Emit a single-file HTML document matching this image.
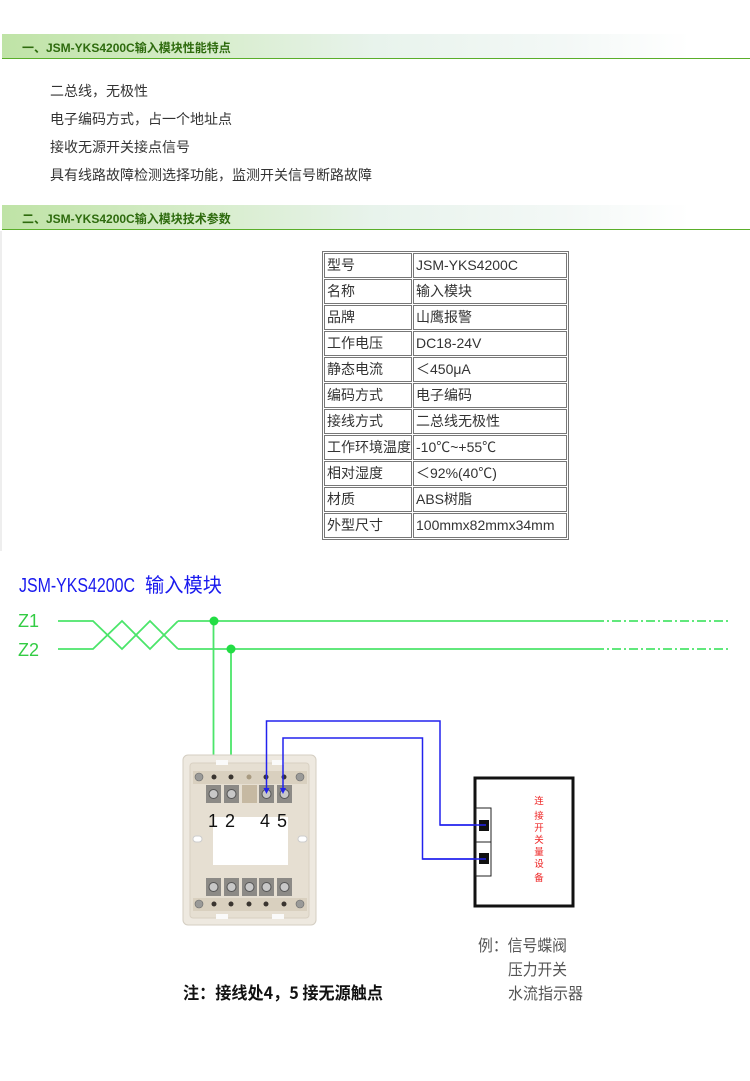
<!DOCTYPE html>
<html><head><meta charset="utf-8">
<style>
*{margin:0;padding:0;box-sizing:border-box}
html,body{width:750px;height:1081px;background:#fff;overflow:hidden}
body{position:relative;font-family:"Liberation Sans","Noto Sans CJK SC",sans-serif;color:#333}
.hd{position:absolute;left:2px;width:748px;height:25px;border-bottom:1px solid #5aae2a;
background:linear-gradient(to right,#bfe3a6 0%,#d5ecc8 25%,#e8f3ec 50%,#f3f8f6 75%,#fff 92%);}
.hd span{position:absolute;left:20px;top:5px;font-size:12px;font-weight:bold;color:#2e6b0e;white-space:nowrap}
.ln{position:absolute;left:50px;font-size:14px;color:#333;white-space:nowrap;line-height:16px}
.tb{position:absolute;left:322px;top:251px;width:247px;height:289px;border:1px solid #777}
.c{position:absolute;border:1px solid #777;height:25px;font-size:14px;line-height:23px;color:#333;white-space:nowrap;overflow:hidden}
.c1{left:324px;width:88px;padding-left:2px}
.c2{left:413px;width:154px;padding-left:2px}
.strip{position:absolute;left:0;top:231px;width:2px;height:320px;background:#eee}
</style></head><body>
<div class="hd" style="top:34px"><span>一、JSM-YKS4200C输入模块性能特点</span></div>
<div class="ln" style="top:83px">二总线，无极性</div>
<div class="ln" style="top:111px">电子编码方式，占一个地址点</div>
<div class="ln" style="top:139px">接收无源开关接点信号</div>
<div class="ln" style="top:167px">具有线路故障检测选择功能，监测开关信号断路故障</div>
<div class="hd" style="top:205px"><span>二、JSM-YKS4200C输入模块技术参数</span></div>
<div class="strip"></div>
<div class="tb"></div>
<div class="c c1" style="top:253px">型号</div><div class="c c2" style="top:253px">JSM-YKS4200C</div>
<div class="c c1" style="top:279px">名称</div><div class="c c2" style="top:279px">输入模块</div>
<div class="c c1" style="top:305px">品牌</div><div class="c c2" style="top:305px">山鹰报警</div>
<div class="c c1" style="top:331px">工作电压</div><div class="c c2" style="top:331px">DC18-24V</div>
<div class="c c1" style="top:357px">静态电流</div><div class="c c2" style="top:357px">＜450μA</div>
<div class="c c1" style="top:383px">编码方式</div><div class="c c2" style="top:383px">电子编码</div>
<div class="c c1" style="top:409px">接线方式</div><div class="c c2" style="top:409px">二总线无极性</div>
<div class="c c1" style="top:435px">工作环境温度</div><div class="c c2" style="top:435px">-10℃~+55℃</div>
<div class="c c1" style="top:461px">相对湿度</div><div class="c c2" style="top:461px">＜92%(40℃)</div>
<div class="c c1" style="top:487px">材质</div><div class="c c2" style="top:487px">ABS树脂</div>
<div class="c c1" style="top:513px">外型尺寸</div><div class="c c2" style="top:513px">100mmx82mmx34mm</div>

<svg style="position:absolute;left:0;top:0" width="750" height="1081" viewBox="0 0 750 1081">
<!-- title -->
<text x="19" y="592" font-family="Liberation Sans,sans-serif" font-size="20" fill="#1a1aee" textLength="116" lengthAdjust="spacingAndGlyphs">JSM-YKS4200C</text>
<text x="145" y="592" font-family="Noto Sans CJK SC,sans-serif" font-size="20" fill="#1a1aee" textLength="77" lengthAdjust="spacingAndGlyphs">输入模块</text>
<!-- Z labels -->
<text x="18" y="627" font-family="Liberation Sans,sans-serif" font-size="18" fill="#33cc44">Z1</text>
<text x="18" y="656" font-family="Liberation Sans,sans-serif" font-size="18" fill="#33cc44">Z2</text>
<!-- green bus -->
<g stroke="#4be56a" stroke-width="1.8" fill="none">
<path d="M58,621 L93,621 L122,649 L150,621 L178,649"/>
<path d="M58,649 L93,649 L122,621 L150,649 L178,621"/>
<path d="M178,621 L595,621"/>
<path d="M178,649 L595,649"/>
<path d="M595,621 L730,621" stroke-dasharray="9,3,2,3"/>
<path d="M595,649 L730,649" stroke-dasharray="9,3,2,3"/>
<path d="M213.5,621 L213.5,792"/>
<path d="M231,649 L231,792"/>
</g>
<circle cx="214" cy="621" r="4.5" fill="#22dd44"/>
<circle cx="231" cy="649" r="4.5" fill="#22dd44"/>
<!-- module -->
<g>
<rect x="183" y="755" width="133" height="170" rx="5" fill="#eee9e0" stroke="#d4cec2"/>
<rect x="190" y="763" width="119" height="155" rx="3" fill="#e6dfd2" stroke="#d8d0c2"/>
<rect x="216" y="760" width="12" height="5" fill="#fafafa"/>
<rect x="272" y="760" width="12" height="5" fill="#fafafa"/>
<rect x="216" y="914" width="12" height="5" fill="#fafafa"/>
<rect x="272" y="914" width="12" height="5" fill="#fafafa"/>
<rect x="193" y="771" width="114" height="13" fill="#d9d0bf"/>
<circle cx="199" cy="777" r="4" fill="#9a9a98" stroke="#666" stroke-width="0.6"/>
<circle cx="300" cy="777" r="4" fill="#9a9a98" stroke="#666" stroke-width="0.6"/>
<g fill="#3a3530">
<circle cx="214" cy="777" r="2.5"/><circle cx="231" cy="777" r="2.5"/><circle cx="249" cy="777" r="2.5" fill="#a89a80"/><circle cx="266" cy="777" r="2.5"/><circle cx="284" cy="777" r="2.5"/>
</g>
<g>
<rect x="206" y="785" width="15" height="18" fill="#8c8a86"/>
<rect x="224" y="785" width="15" height="18" fill="#8c8a86"/>
<rect x="242" y="785" width="15" height="18" fill="#c6b9a2"/>
<rect x="259" y="785" width="15" height="18" fill="#8c8a86"/>
<rect x="277" y="785" width="15" height="18" fill="#8c8a86"/>
<circle cx="213.5" cy="794" r="4.5" fill="#c8c8c8" stroke="#555"/>
<circle cx="231.5" cy="794" r="4.5" fill="#c8c8c8" stroke="#555"/>
<circle cx="266.5" cy="794" r="4.5" fill="#c8c8c8" stroke="#555"/>
<circle cx="284.5" cy="794" r="4.5" fill="#c8c8c8" stroke="#555"/>
</g>
<rect x="213" y="817" width="75" height="48" fill="#fff"/>
<rect x="193" y="836" width="9" height="6" rx="3" fill="#fff" stroke="#ccc"/>
<rect x="298" y="836" width="9" height="6" rx="3" fill="#fff" stroke="#ccc"/>
<g>
<rect x="206" y="878" width="15" height="18" fill="#8c8a86"/>
<rect x="224" y="878" width="15" height="18" fill="#8c8a86"/>
<rect x="242" y="878" width="15" height="18" fill="#8c8a86"/>
<rect x="259" y="878" width="15" height="18" fill="#8c8a86"/>
<rect x="277" y="878" width="15" height="18" fill="#8c8a86"/>
<circle cx="213.5" cy="887" r="4.5" fill="#c8c8c8" stroke="#555"/>
<circle cx="231.5" cy="887" r="4.5" fill="#c8c8c8" stroke="#555"/>
<circle cx="249.5" cy="887" r="4.5" fill="#c8c8c8" stroke="#555"/>
<circle cx="266.5" cy="887" r="4.5" fill="#c8c8c8" stroke="#555"/>
<circle cx="284.5" cy="887" r="4.5" fill="#c8c8c8" stroke="#555"/>
</g>
<rect x="193" y="898" width="114" height="13" fill="#d9d0bf"/>
<circle cx="199" cy="904" r="4" fill="#9a9a98" stroke="#666" stroke-width="0.6"/>
<circle cx="300" cy="904" r="4" fill="#9a9a98" stroke="#666" stroke-width="0.6"/>
<g fill="#3a3530">
<circle cx="214" cy="904" r="2.5"/><circle cx="231" cy="904" r="2.5"/><circle cx="249" cy="904" r="2.5"/><circle cx="266" cy="904" r="2.5"/><circle cx="284" cy="904" r="2.5"/>
</g>
<text x="208" y="827" font-family="Liberation Sans,sans-serif" font-size="18" fill="#111">1</text>
<text x="225" y="827" font-family="Liberation Sans,sans-serif" font-size="18" fill="#111">2</text>
<text x="260" y="827" font-family="Liberation Sans,sans-serif" font-size="18" fill="#111">4</text>
<text x="277" y="827" font-family="Liberation Sans,sans-serif" font-size="18" fill="#111">5</text>
</g>
<!-- blue wires -->
<g stroke="#2222ee" stroke-width="1.5" fill="none">
<path d="M266.5,790 L266.5,721 L440,721 L440,825 L482,825"/>
<path d="M283,790 L283,738 L422.5,738 L422.5,859 L482,859"/>
</g>
<path d="M263.5,788 L266.5,794 L269.5,788 z" fill="#2222ee"/>
<path d="M280,788 L283,794 L286,788 z" fill="#2222ee"/>
<!-- device box -->
<rect x="475" y="778" width="98" height="128" fill="#fff" stroke="#111" stroke-width="3"/>
<rect x="476" y="808" width="15" height="34" fill="#fff" stroke="#222" stroke-width="1"/>
<rect x="476" y="842" width="15" height="34" fill="#fff" stroke="#222" stroke-width="1"/>
<rect x="479" y="820" width="10" height="11" fill="#111"/>
<rect x="479" y="853" width="10" height="11" fill="#111"/>
<line x1="440" y1="825" x2="486" y2="825" stroke="#2222ee" stroke-width="1.5"/>
<line x1="422.5" y1="859" x2="486" y2="859" stroke="#2222ee" stroke-width="1.5"/>
<g font-family="Noto Sans CJK SC,sans-serif" font-size="9.5" fill="#ee2222" text-anchor="middle">
<text x="539" y="804">连</text>
<text x="539" y="819">接</text>
<text x="539" y="831">开</text>
<text x="539" y="843">关</text>
<text x="539" y="855">量</text>
<text x="539" y="867">设</text>
<text x="539" y="881">备</text>
</g>
<!-- example text -->
<g font-family="Noto Sans CJK SC,sans-serif" font-size="16" fill="#555">
<text x="478" y="951" textLength="89" lengthAdjust="spacingAndGlyphs">例：信号蝶阀</text>
<text x="508" y="975" textLength="59" lengthAdjust="spacingAndGlyphs">压力开关</text>
<text x="508" y="999" textLength="75" lengthAdjust="spacingAndGlyphs">水流指示器</text>
</g>
<text x="183" y="999" font-family="Noto Sans CJK SC,sans-serif" font-size="17" font-weight="bold" fill="#111" textLength="200" lengthAdjust="spacingAndGlyphs">注：接线处4，5 接无源触点</text>
</svg>
</body></html>
